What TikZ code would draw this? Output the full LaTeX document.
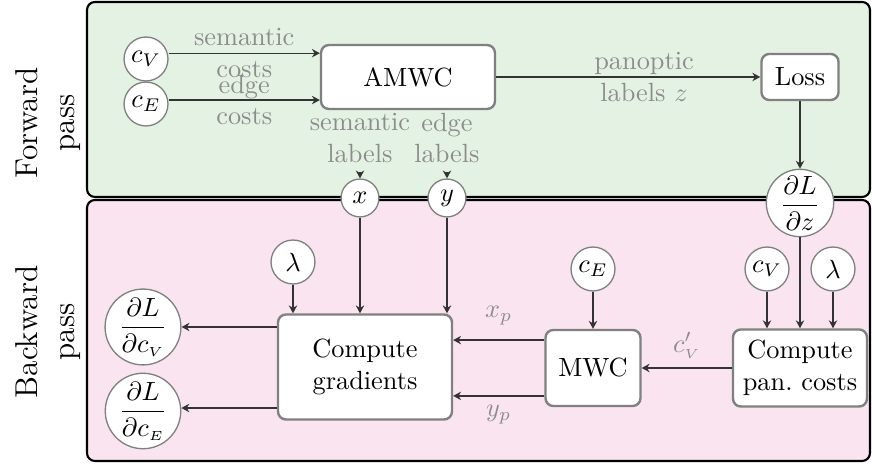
\documentclass[tikz,border=0pt]{standalone}
\usepackage{amsmath}
\usepackage{tikz}
\usetikzlibrary{arrows.meta,positioning,shapes}
\definecolor{fwdgreen}{HTML}{E3F2E3}
\definecolor{bwdpink}{HTML}{F9E4F0}
\definecolor{lblgray}{HTML}{8C8C8C}

\begin{document}
\begin{tikzpicture}[x = 0.38pt, y = -0.38pt,
  var/.style = {circle, draw = gray, fill = white, line width = 0.5pt, inner sep = 0pt, minimum size = 16.7pt},
  grad/.style = {circle, draw = gray, fill = white, line width = 0.5pt, inner sep = 0pt, minimum size = 25.6pt},
  opbox/.style = {rectangle, rounded corners = 3pt, draw = gray, fill = white, line width = 0.9pt, align = center},
  lbl/.style = {text = lblgray, align = center},
  arr/.style = {-{Stealth[length = 3pt, width = 3.2pt]}, black!80, line width = 0.5pt}]
\useasboundingbox (0,0) rectangle (872,464);
\draw[fill = fwdgreen, draw = black, line width = 0.8pt, rounded corners = 3pt] (87,2) rectangle (870,197);
\draw[fill = bwdpink, draw = black, line width = 0.8pt, rounded corners = 3pt] (87,200) rectangle (870,461);
\node[rotate = 90, align = center, font = \large] (fwd) at (48,123) {Forward\\pass};
\node[rotate = 90, align = center, font = \large] (bwd) at (48,332) {Backward\\pass};
% forward pass
\node[var] (cv1) at (146,59) {$c_V$};
\node[var] (ce1) at (146,104) {$c_E$};
\node[opbox, minimum width = 66.1pt, minimum height = 24.3pt] (amwc) at (408,77) {AMWC};
\node[opbox, minimum width = 29.3pt, minimum height = 17.5pt] (loss) at (800,77) {Loss};
\node[lbl] (semlab) at (360,138) {semantic\\labels};
\node[lbl] (edgelab) at (447,138) {edge\\labels};
\node[var, minimum size = 14.4pt] (xv) at (360,198) {$x$};
\node[var, minimum size = 14.4pt] (yv) at (447,198) {$y$};
\node[grad] (dLdz) at (800,203) {$\dfrac{\partial L}{\partial z}$};
\draw[arr] ([yshift = 2.2pt]cv1.east) -- ([yshift = 2.2pt]cv1.east -| amwc.west) node[midway, lbl] {semantic\\costs};
\draw[arr] ([yshift = 1.5pt]ce1.east) -- ([yshift = 1.5pt]ce1.east -| amwc.west) node[midway, lbl] {edge\\costs};
\draw[arr] (amwc) -- (loss) node[pos = 0.56, lbl] {panoptic\\labels $z$};
\draw[arr] (loss) -- (dLdz);
\draw[arr] (semlab) -- (xv);
\draw[arr] (edgelab) -- (yv);
% backward pass
\node[var] (lam1) at (293,262) {$\lambda$};
\node[opbox, minimum width = 66.1pt, minimum height = 39.9pt] (cgrad) at (365,367) {Compute\\gradients};
\node[grad] (dLdcv) at (143,327) {$\dfrac{\partial L}{\partial c_{\scriptscriptstyle V}}$};
\node[grad] (dLdce) at (143,411) {$\dfrac{\partial L}{\partial c_{\scriptscriptstyle E}}$};
\node[var] (ce2) at (593,269) {$c_E$};
\node[opbox, minimum width = 36.1pt, minimum height = 28.9pt] (mwc) at (593,368) {MWC};
\node[opbox, minimum width = 50.9pt, minimum height = 29.3pt] (pan) at (800,368) {Compute\\pan.\ costs};
\node[var] (cv2) at (767,269) {$c_V$};
\node[var] (lam2) at (833,269) {$\lambda$};
\draw[arr] (xv) -- (xv |- cgrad.north);
\draw[arr] (yv) -- (yv |- cgrad.north);
\draw[arr] (lam1) -- (lam1 |- cgrad.north);
\draw[arr] (cgrad.west |- dLdcv) -- (dLdcv);
\draw[arr] (cgrad.west |- 0,408) -- (dLdce.east |- 0,408);
\draw[arr] ([yshift = 10.6pt]mwc.west) -- ([yshift = 10.6pt]mwc.west -| cgrad.east) node[midway, above = 2pt, lbl] {$x_p$};
\draw[arr] ([yshift = -10.6pt]mwc.west) -- ([yshift = -10.6pt]mwc.west -| cgrad.east) node[midway, below, lbl] {$y_p$};
\draw[arr] (ce2) -- (mwc);
\draw[arr] (cv2) -- (cv2 |- pan.north);
\draw[arr] (dLdz) -- (pan);
\draw[arr] (lam2) -- (lam2 |- pan.north);
\draw[arr] (pan) -- (mwc) node[midway, above, lbl] {$c'_{\scriptscriptstyle V}$};
\end{tikzpicture}
\end{document}
